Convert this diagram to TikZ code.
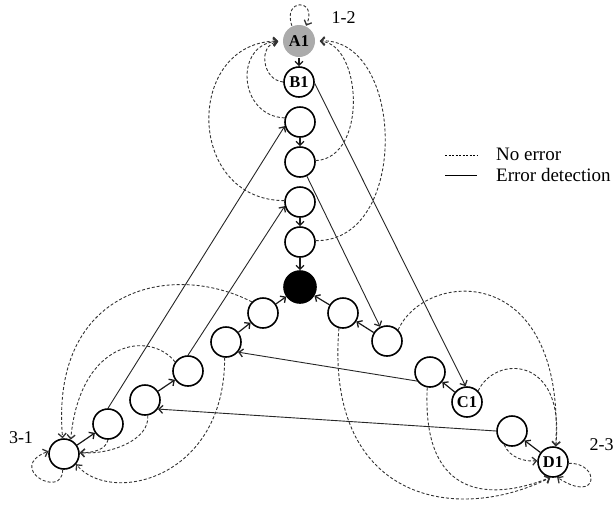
\documentclass[tikz,border=0pt]{standalone}
\usepackage{fontspec}
\setmainfont{Liberation Serif}
\usetikzlibrary{arrows.meta}
\begin{document}
\begin{tikzpicture}[x=1pt,y=-1pt,
  st/.style={circle,draw=black,line width=1.6pt,minimum size=30pt,inner sep=0pt,font=\fontsize{16.5}{16.5}\selectfont\bfseries},
  tipp/.style={-{Straight Barb[length=4pt,width=8pt,line width=1.3pt]}},
  shortarr/.style={tipp,line width=1.2pt,draw=black!90},
  err/.style={tipp,line width=0.9pt,draw=black!85},
  ok/.style={tipp,line width=0.9pt,dash pattern=on 3pt off 2pt,draw=black!80},
  lbl/.style={font=\fontsize{18}{18}\selectfont,inner sep=0pt},
  leg/.style={font=\fontsize{19}{19}\selectfont,inner sep=0pt,anchor=west}]
\useasboundingbox (0,0) rectangle (613,504);
% vertical branch
\node[st,fill=black!33,draw=none,minimum size=32pt] (A1) at (299,41) {A1};
\node[st] (B1) at (299,82) {B1};
\node[st] (N3) at (300,122) {};
\node[st] (N4) at (300,162) {};
\node[st] (N5) at (300,202) {};
\node[st] (N6) at (300,242) {};
\node[st,fill=black,minimum size=32pt] (K) at (300,287) {};
% left branch
\node[st] (L1) at (263,313) {};
\node[st] (L2) at (226,342) {};
\node[st] (L3) at (188,371) {};
\node[st] (L4) at (145,400) {};
\node[st] (L5) at (108,424) {};
\node[st] (L6) at (64,454) {};
% right branch
\node[st] (R1) at (343,313) {};
\node[st] (R2) at (387,341) {};
\node[st] (R3) at (430,372) {};
\node[st] (C1) at (467,402) {C1};
\node[st] (R5) at (512,431) {};
\node[st] (D1) at (553,462) {D1};
% labels
\node[lbl] (t12) at (343.5,18) {1-2};
\node[lbl] (t31) at (21,438) {3-1};
\node[lbl] (t23) at (601.5,445) {2-3};
% short arrows
\draw[shortarr] (A1) -- (B1);
\draw[shortarr] (N3) -- (N4);
\draw[shortarr] (N5) -- (N6);
\draw[shortarr] (N6) -- (K);
\draw[shortarr] (L1) -- (K);
\draw[shortarr] (L2) -- (L1);
\draw[shortarr] (L4) -- (L3);
\draw[shortarr] (L6) -- (L5);
\draw[shortarr] (R1) -- (K);
\draw[shortarr] (R2) -- (R1);
\draw[shortarr] (C1) -- (R3);
\draw[shortarr] (D1) -- (R5);
% error detection
\draw[err] (B1.-5) -- (C1.95);
\draw[err] (N4) -- (R2);
\draw[err] (L5.north) -- (N3.195);
\draw[err] (L3.north) -- (N5.195);
\draw[err] (R3.215) -- (L2.-40);
\draw[err] (R5.180) -- (L4.-35);
% no error: to A1
\draw[ok,shorten >=4pt] (B1.180) .. controls (262,80) and (258,45) .. (A1.180);
\draw[ok,shorten >=4pt] (N3.165) .. controls (238,116) and (234,44) .. (A1.180);
\draw[ok,shorten >=4pt] (N5.175) .. controls (185,200) and (185,42) .. (A1.180);
\draw[ok,shorten >=4pt] (N4.5) .. controls (368,158) and (362,44) .. (A1.0);
\draw[ok,shorten >=4pt] (N6.5) .. controls (410,242) and (405,38) .. (A1.0);
\draw[ok] (A1.115) .. controls (282,-2) and (318,-2) .. (A1.65);
% no error: to L6
\draw[ok] (L6.265) .. controls (63,500) and (5,468) .. (L6.170);
\draw[ok] (L1.135) .. controls (170,260) and (50,290) .. (L6.95);
\draw[ok] (L3.145) .. controls (150,330) and (80,340) .. (L6.65);
\draw[ok] (L2.265) .. controls (225,480) and (110,505) .. (L6.-40);
\draw[ok] (L4.-80) .. controls (150,440) and (110,455) .. (L6.5);
\draw[ok] (L5.-90) .. controls (106,450) and (92,453) .. (L6.5);
% no error: to D1
\draw[ok] (D1.-5) .. controls (600,462) and (600,505) .. (D1.-75);
\draw[ok] (R2.45) .. controls (425,270) and (565,260) .. (D1.80);
\draw[ok] (C1.45) .. controls (495,355) and (565,355) .. (D1.80);
\draw[ok] (R5.-120) .. controls (510,458) and (525,462) .. (D1.175);
\draw[ok] (R3.-100) .. controls (422,490) and (480,505) .. (D1.-100);
\draw[ok] (R1.-105) .. controls (325,500) and (455,525) .. (D1.-100);
% legend
\coordinate (la) at (445,155);
\coordinate (lb) at (477,155);
\coordinate (lc) at (445,175);
\coordinate (ld) at (477,175);
\draw[line width=0.6pt,dash pattern=on 2pt off 1.5pt] (la) -- (lb);
\draw[line width=0.9pt] (lc) -- (ld);
\node[leg] (ln) at (496,154) {No error};
\node[leg] (le) at (496,175) {Error detection};
\end{tikzpicture}
\end{document}
